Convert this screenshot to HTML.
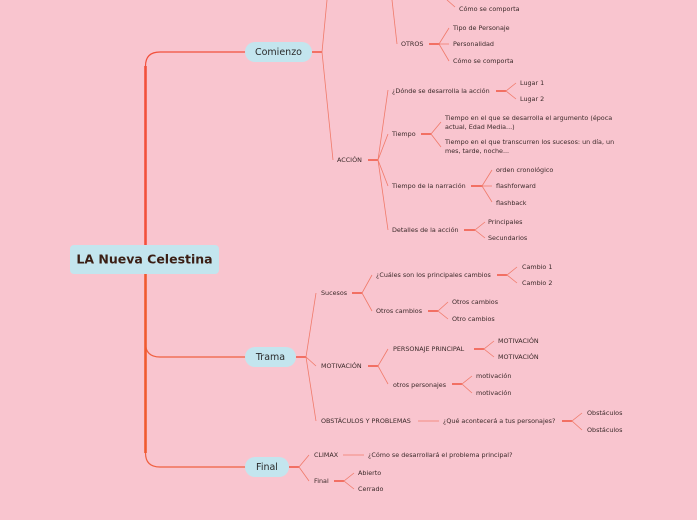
<!DOCTYPE html>
<html><head><meta charset="utf-8"><style>
html,body{margin:0;padding:0;background:#f9c5cf;}
svg{display:block}
text{font-family:"DejaVu Sans","Liberation Sans",sans-serif;fill:#3b2a2a;font-size:6.4px;dominant-baseline:middle}
.t{font-size:9.5px;fill:#2a2a2a}
.r{font-size:12.5px;font-weight:bold;fill:#3a1e14}
.l{fill:none;stroke:#f07a6a;stroke-width:0.8}
.s{fill:none;stroke:#f05a48;stroke-width:1.6}
</style></head><body>
<svg width="697" height="520" viewBox="0 0 697 520" xmlns="http://www.w3.org/2000/svg">
<rect width="697" height="520" fill="#f9c5cf"/>
<!-- trunk -->
<path d="M145.5 245 V66 Q145.5 52 160 52 H246" fill="none" stroke="#f2503c" stroke-width="1.2"/>
<path d="M145.5 245 V66" fill="none" stroke="#f2503c" stroke-width="2.6"/>
<path d="M145.5 274 V343 Q145.5 357 160 357 H246" fill="none" stroke="#f06040" stroke-width="1.2"/>
<path d="M145.5 274 V453 Q145.5 467 160 467 H246" fill="none" stroke="#f06040" stroke-width="1.2"/>
<path d="M145.5 274 V453" fill="none" stroke="#f05a30" stroke-width="2.6"/>
<rect x="70" y="245" width="149" height="29" rx="4" fill="#c3e5ee"/>
<text class="r" x="144.5" y="260" text-anchor="middle">LA Nueva Celestina</text>
<rect x="245" y="42" width="67" height="20" rx="10" fill="#c3e5ee"/>
<text class="t" x="278.5" y="52.5" text-anchor="middle">Comienzo</text>
<rect x="245" y="347" width="51" height="20" rx="10" fill="#c3e5ee"/>
<text class="t" x="270.5" y="357.5" text-anchor="middle">Trama</text>
<rect x="245" y="457" width="44" height="20" rx="10" fill="#c3e5ee"/>
<text class="t" x="267" y="467.5" text-anchor="middle">Final</text>

<!-- Comienzo -->
<path class="s" d="M312 52 H322"/>
<path class="l" d="M327 0 L322 52 L333 160"/>
<path class="l" d="M392 0 L397 44"/>
<path class="l" d="M447 0 L455 7"/>
<text x="459" y="9">Cómo se  comporta</text>
<text x="401" y="44">OTROS</text>
<path class="s" d="M429 44 H439"/>
<path class="l" d="M449 28 L439 44 L449 61 M439 44 H449"/>
<text x="453" y="28">Tipo de Personaje</text>
<text x="453" y="44">Personalidad</text>
<text x="453" y="61">Cómo se comporta</text>
<text x="337" y="160">ACCIÓN</text>
<path class="s" d="M368 160 H378"/>
<path class="l" d="M388 90 L378 160 L388 230 M378 160 L388 134 M378 160 L388 186"/>
<text x="392" y="91">¿Dónde se desarrolla la acción</text>
<path class="s" d="M496 91 H506"/>
<path class="l" d="M516 83 L506 91 L516 99"/>
<text x="520" y="83">Lugar 1</text>
<text x="520" y="99">Lugar 2</text>
<text x="392" y="134">Tiempo</text>
<path class="s" d="M421 134 H431"/>
<path class="l" d="M441 122 L431 134 L441 147"/>
<text x="445" y="118">Tiempo en el que se desarrolla el argumento (época</text>
<text x="445" y="127">actual, Edad Media...)</text>
<text x="445" y="142">Tiempo en el que transcurren los sucesos: un día, un</text>
<text x="445" y="151">mes, tarde, noche...</text>
<text x="392" y="186">Tiempo de la narración</text>
<path class="s" d="M471 186 H482"/>
<path class="l" d="M492 170 L482 186 L492 202 M482 186 H492"/>
<text x="496" y="170">orden cronológico</text>
<text x="496" y="186">flashforward</text>
<text x="496" y="203">flashback</text>
<text x="392" y="230">Detalles de la acción</text>
<path class="s" d="M464 230 H475"/>
<path class="l" d="M485 222 L475 230 L485 238"/>
<text x="488" y="222">Principales</text>
<text x="488" y="238">Secundarios</text>

<!-- Trama -->
<path class="s" d="M296 357 H306"/>
<path class="l" d="M316 293 L306 357 L316 421 M306 357 L316 366"/>
<text x="321" y="293">Sucesos</text>
<path class="s" d="M352 293 H362"/>
<path class="l" d="M372 275 L362 293 L372 311"/>
<text x="376" y="275">¿Cuáles son los principales cambios</text>
<path class="s" d="M497 275 H507"/>
<path class="l" d="M517 267 L507 275 L517 283"/>
<text x="522" y="267">Cambio 1</text>
<text x="522" y="283">Cambio 2</text>
<text x="376" y="311">Otros cambios</text>
<path class="s" d="M428 311 H438"/>
<path class="l" d="M448 302 L438 311 L448 319"/>
<text x="452" y="302">Otros cambios</text>
<text x="452" y="319">Otro cambios</text>
<text x="321" y="366">MOTIVACIÓN</text>
<path class="s" d="M368 366 H378"/>
<path class="l" d="M388 349 L378 366 L388 384"/>
<text x="393" y="349">PERSONAJE PRINCIPAL</text>
<path class="s" d="M474 349 H484"/>
<path class="l" d="M494 341 L484 349 L494 357"/>
<text x="498" y="341">MOTIVACIÓN</text>
<text x="498" y="357">MOTIVACIÓN</text>
<text x="393" y="385">otros personajes</text>
<path class="s" d="M452 384 H462"/>
<path class="l" d="M472 376 L462 384 L472 393"/>
<text x="476" y="376">motivación</text>
<text x="476" y="393">motivación</text>
<text x="321" y="421">OBSTÁCULOS Y PROBLEMAS</text>
<path class="l" d="M418 421 H439"/>
<text x="443" y="421">¿Qué acontecerá a tus personajes?</text>
<path class="s" d="M562 421 H572"/>
<path class="l" d="M582 413 L572 421 L582 430"/>
<text x="587" y="413">Obstáculos</text>
<text x="587" y="430">Obstáculos</text>

<!-- Final -->
<path class="s" d="M289 467 H299"/>
<path class="l" d="M309 455 L299 467 L309 481"/>
<text x="314" y="455">CLIMAX</text>
<path class="l" d="M343 455 H364"/>
<text x="368" y="455">¿Cómo se desarrollará el problema principal?</text>
<text x="314" y="481">Final</text>
<path class="s" d="M334 481 H344"/>
<path class="l" d="M354 473 L344 481 L354 489"/>
<text x="358" y="473">Abierto</text>
<text x="358" y="489">Cerrado</text>
</svg>
</body></html>
